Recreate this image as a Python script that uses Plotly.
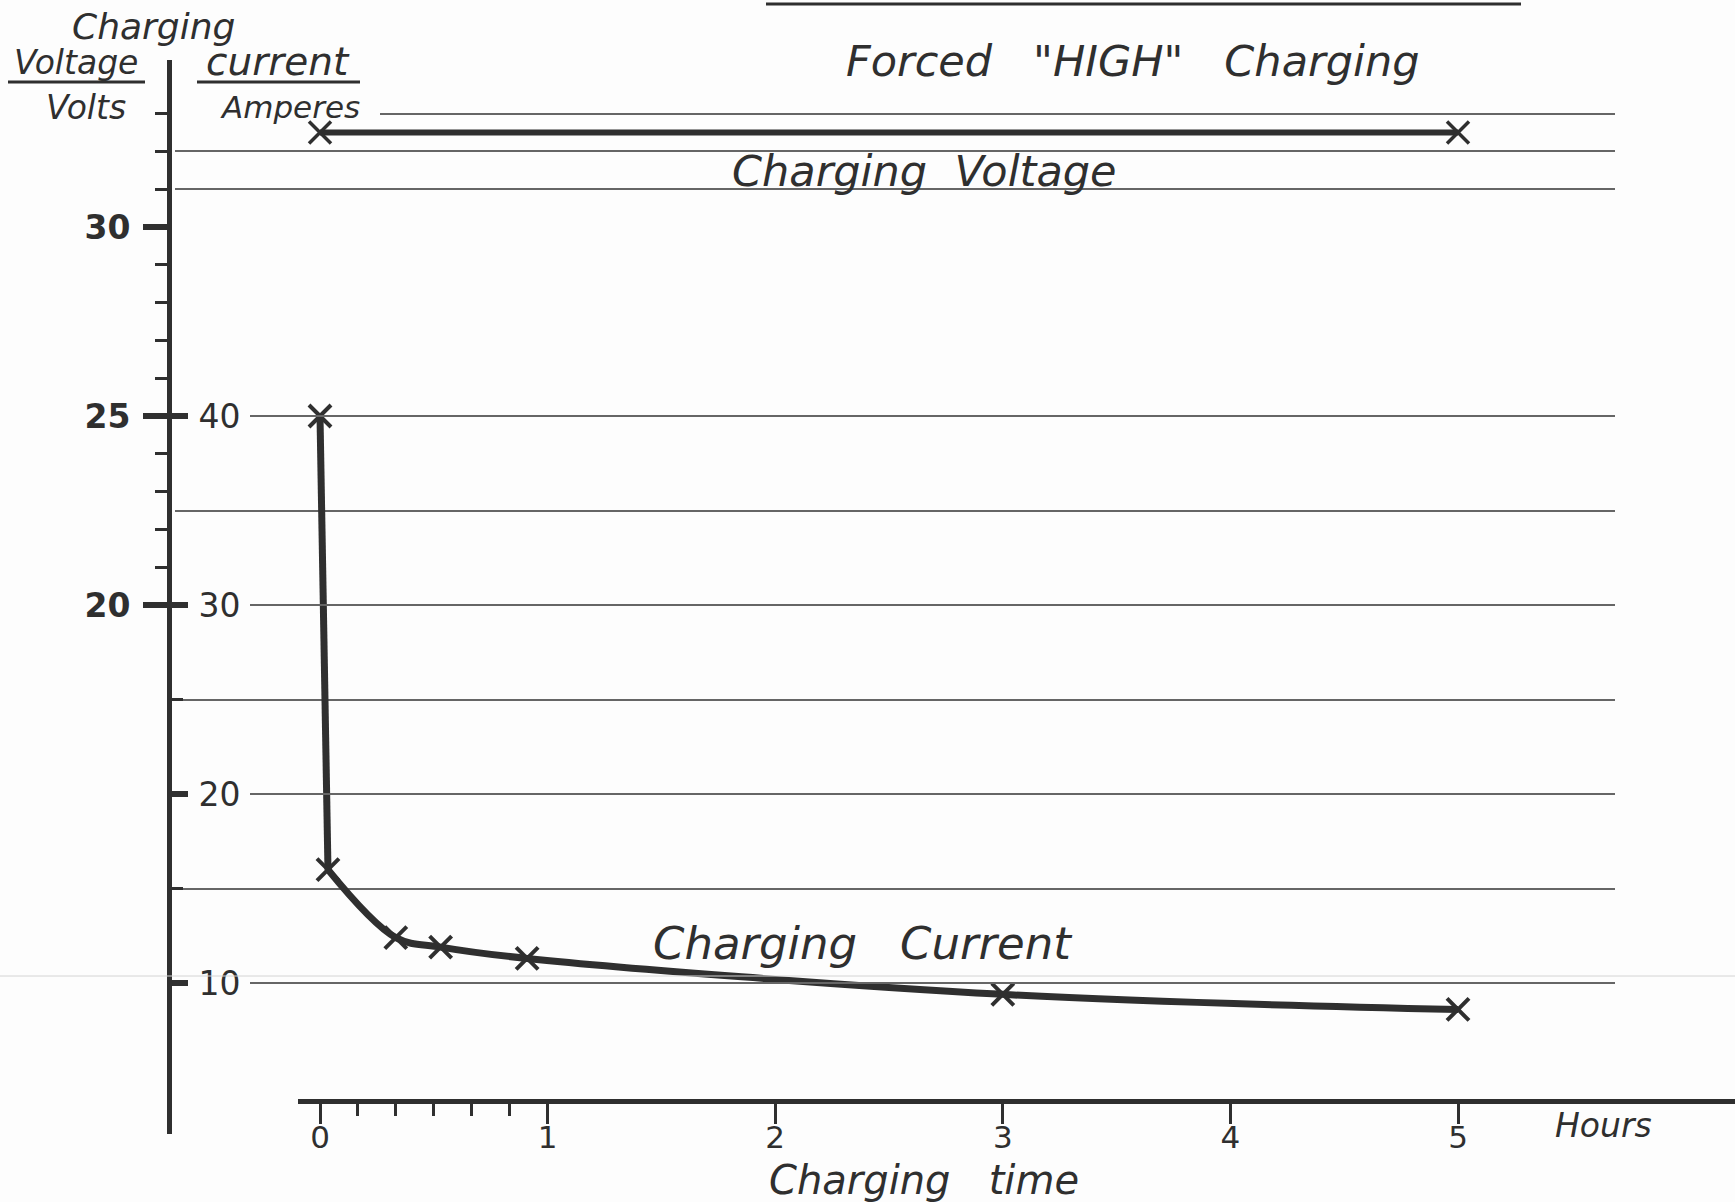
import plotly.graph_objects as go

# ---------------- data ----------------
time_current = [0, 0.035, 0.333, 0.53, 0.91, 3, 5]          # hours
current_amps = [40, 16, 12.4, 11.9, 11.3, 9.4, 8.6]          # amperes
time_voltage = [0, 5]                                         # hours
voltage_volts = [32.5, 32.5]                                  # volts

time_ticks = [0, 1, 2, 3, 4, 5]
time_minor = [1/6, 2/6, 3/6, 4/6, 5/6]
amp_ticks = [10, 20, 30, 40]
amp_minor = [15, 25]
volt_ticks = [20, 25, 30]
volt_minor = [21, 22, 23, 24, 26, 27, 28, 29, 31, 32, 33]
grid_amps_long = [15, 25, 35]
grid_volts_long = [31, 32]
grid_amps_labeled = [10, 20, 30, 40]
grid_volts_top = [33]

# ---------------- layout geometry (pixels) ----------------
W, H = 1735, 1202
INK = "#2f2f2f"
GRID = "#666666"
FONT = "DejaVu Sans"

def px(x):
    return x / W

def py(y):
    return 1 - y / H

AX_LEFT, PLOT_TOP, PLOT_BOT, GRID_END = 172, 60, 1134, 1615
T0_PX, PX_PER_H = 320, 227.6
A0_PY, PX_PER_A = 1172, 18.9
V0_PY, PX_PER_V = 1361, 37.8
XAXIS_PY = 1099

def t_at(x):
    return (x - T0_PX) / PX_PER_H

def a_at(y):
    return (A0_PY - y) / PX_PER_A

def v_at(y):
    return (V0_PY - y) / PX_PER_V

ydom = [py(PLOT_BOT), py(PLOT_TOP)]
amp_range = [a_at(PLOT_BOT), a_at(PLOT_TOP)]
volt_range = [v_at(PLOT_BOT), v_at(PLOT_TOP)]

fig = go.Figure()

# current: the steep initial drop is drawn straight, the rest as a smooth curve
fig.add_trace(go.Scatter(
    x=time_current[:2], y=current_amps[:2], xaxis="x", yaxis="y",
    mode="lines", line=dict(color=INK, width=7),
    showlegend=False, hoverinfo="skip"))
fig.add_trace(go.Scatter(
    x=time_current[1:], y=current_amps[1:], xaxis="x", yaxis="y",
    mode="lines", line=dict(color=INK, width=7, shape="spline", smoothing=1.0),
    showlegend=False, hoverinfo="skip"))
fig.add_trace(go.Scatter(
    x=time_current, y=current_amps, xaxis="x", yaxis="y",
    mode="markers",
    marker=dict(symbol="x-thin", size=22, line=dict(color=INK, width=4)),
    showlegend=False, hoverinfo="x+y"))
fig.add_trace(go.Scatter(
    x=time_voltage, y=voltage_volts, xaxis="x", yaxis="y4",
    mode="lines+markers",
    line=dict(color=INK, width=6),
    marker=dict(symbol="x-thin", size=22, line=dict(color=INK, width=3.5)),
    showlegend=False, hoverinfo="x+y"))

# empty traces to anchor the helper subplots
for xa, ya in [("x2", "y2"), ("x3", "y3"), ("x5", "y5"), ("x6", "y6"), ("x6", "y7")]:
    fig.add_trace(go.Scatter(x=[], y=[], xaxis=xa, yaxis=ya, showlegend=False, hoverinfo="skip"))

hidden_x = dict(visible=False, fixedrange=True)
grid_y = dict(showgrid=True, gridcolor=GRID, gridwidth=2, showticklabels=False,
              ticks="", showline=False, zeroline=False, tickmode="array", fixedrange=True)

tick_font = dict(family=FONT, size=31, color=INK)

fig.update_layout(
    width=W, height=H,
    margin=dict(l=0, r=0, t=0, b=0),
    paper_bgcolor="#fdfdfd", plot_bgcolor="rgba(0,0,0,0)",
    showlegend=False,
    xaxis=dict(domain=[px(175), px(GRID_END)], range=[t_at(175), t_at(GRID_END)], anchor="y", **hidden_x),
    yaxis=dict(domain=ydom, range=amp_range, anchor="x", tickvals=grid_amps_long, **grid_y),
    yaxis4=dict(overlaying="y", range=volt_range, anchor="x", tickvals=grid_volts_long, **grid_y),
    xaxis2=dict(domain=[px(250), px(GRID_END)], range=[t_at(250), t_at(GRID_END)], anchor="y2", **hidden_x),
    yaxis2=dict(domain=ydom, range=amp_range, anchor="x2", tickvals=grid_amps_labeled, **grid_y),
    xaxis3=dict(domain=[px(380), px(GRID_END)], range=[t_at(380), t_at(GRID_END)], anchor="y3", **hidden_x),
    yaxis3=dict(domain=ydom, range=volt_range, anchor="x3", tickvals=grid_volts_top, **grid_y),
    xaxis5=dict(domain=[px(298), 1], range=[t_at(298), t_at(W)], anchor="y5", side="bottom",
                showline=True, linewidth=5, linecolor=INK, showgrid=False, zeroline=False,
                tickmode="array", tickvals=time_ticks, ticktext=[str(v) for v in time_ticks],
                ticks="outside", ticklen=20, tickwidth=3, tickcolor=INK, tickfont=tick_font,
                ticklabelstandoff=-13,
                minor=dict(tickvals=time_minor, ticks="outside", ticklen=12, tickwidth=3, tickcolor=INK, showgrid=False),
                fixedrange=True),
    yaxis5=dict(domain=[py(XAXIS_PY), py(XAXIS_PY) + 0.01], range=[0, 1], anchor="x5", visible=False, fixedrange=True),
    xaxis6=dict(domain=[px(AX_LEFT), px(AX_LEFT) + 0.01], range=[0, 1], anchor="y6", **hidden_x),
    yaxis6=dict(domain=ydom, range=amp_range, anchor="x6", side="left",
                showline=True, linewidth=5, linecolor=INK, showgrid=False, zeroline=False,
                tickmode="array", tickvals=amp_ticks, ticktext=[str(v) for v in amp_ticks],
                ticks="inside", ticklen=16, tickwidth=6, tickcolor=INK,
                ticklabelposition="inside", ticklabelstandoff=14,
                tickfont=dict(family=FONT, size=33, color=INK),
                minor=dict(tickvals=amp_minor, ticks="inside", ticklen=11, tickwidth=3, tickcolor=INK, showgrid=False),
                fixedrange=True),
    yaxis7=dict(overlaying="y6", range=volt_range, anchor="x6", side="left",
                showline=False, showgrid=False, zeroline=False,
                tickmode="array", tickvals=volt_ticks, ticktext=[str(v) for v in volt_ticks],
                ticks="outside", ticklen=28, tickwidth=6, tickcolor=INK,
                ticklabelstandoff=6, tickfont=dict(family=FONT, size=33, color=INK, weight="bold"),
                minor=dict(tickvals=volt_minor, ticks="outside", ticklen=16, tickwidth=3, tickcolor=INK, showgrid=False),
                fixedrange=True),
)

def label(text, cx, cy, size, weight="normal", style="italic"):
    fig.add_annotation(text=text, x=px(cx), y=py(cy), xref="paper", yref="paper",
                       showarrow=False, xanchor="center", yanchor="middle",
                       font=dict(family=FONT, size=size, color=INK, weight=weight, style=style))

label("Charging", 153, 27, 36)
label("Voltage", 76, 63, 33)
label("current", 278, 62, 39)
label("Volts", 86, 107, 33)
label("Amperes", 290, 107, 31)
label("Forced   \"HIGH\"   Charging", 1132, 61, 43)
label("Charging  Voltage", 924, 171, 43)
label("Charging   Current", 863, 943, 45)
label("Charging   time", 924, 1180, 40)
label("Hours", 1603, 1125, 33)

def hline(x0, x1, y, width, color):
    fig.add_shape(type="line", xref="paper", yref="paper", x0=px(x0), x1=px(x1), y0=py(y), y1=py(y),
                  line=dict(color=color, width=width))

hline(8, 145, 82, 3, INK)        # underline "Voltage"
hline(197, 360, 82, 3, INK)      # underline "current"
hline(766, 1521, 4, 3, INK)      # cut-off title underline
hline(0, W, 976, 1, "#d4d4d4")   # faint scanner line

fig.write_html("out.html", config={"displayModeBar": False},
               post_script="document.body.style.margin='0';document.body.style.overflow='hidden';")
